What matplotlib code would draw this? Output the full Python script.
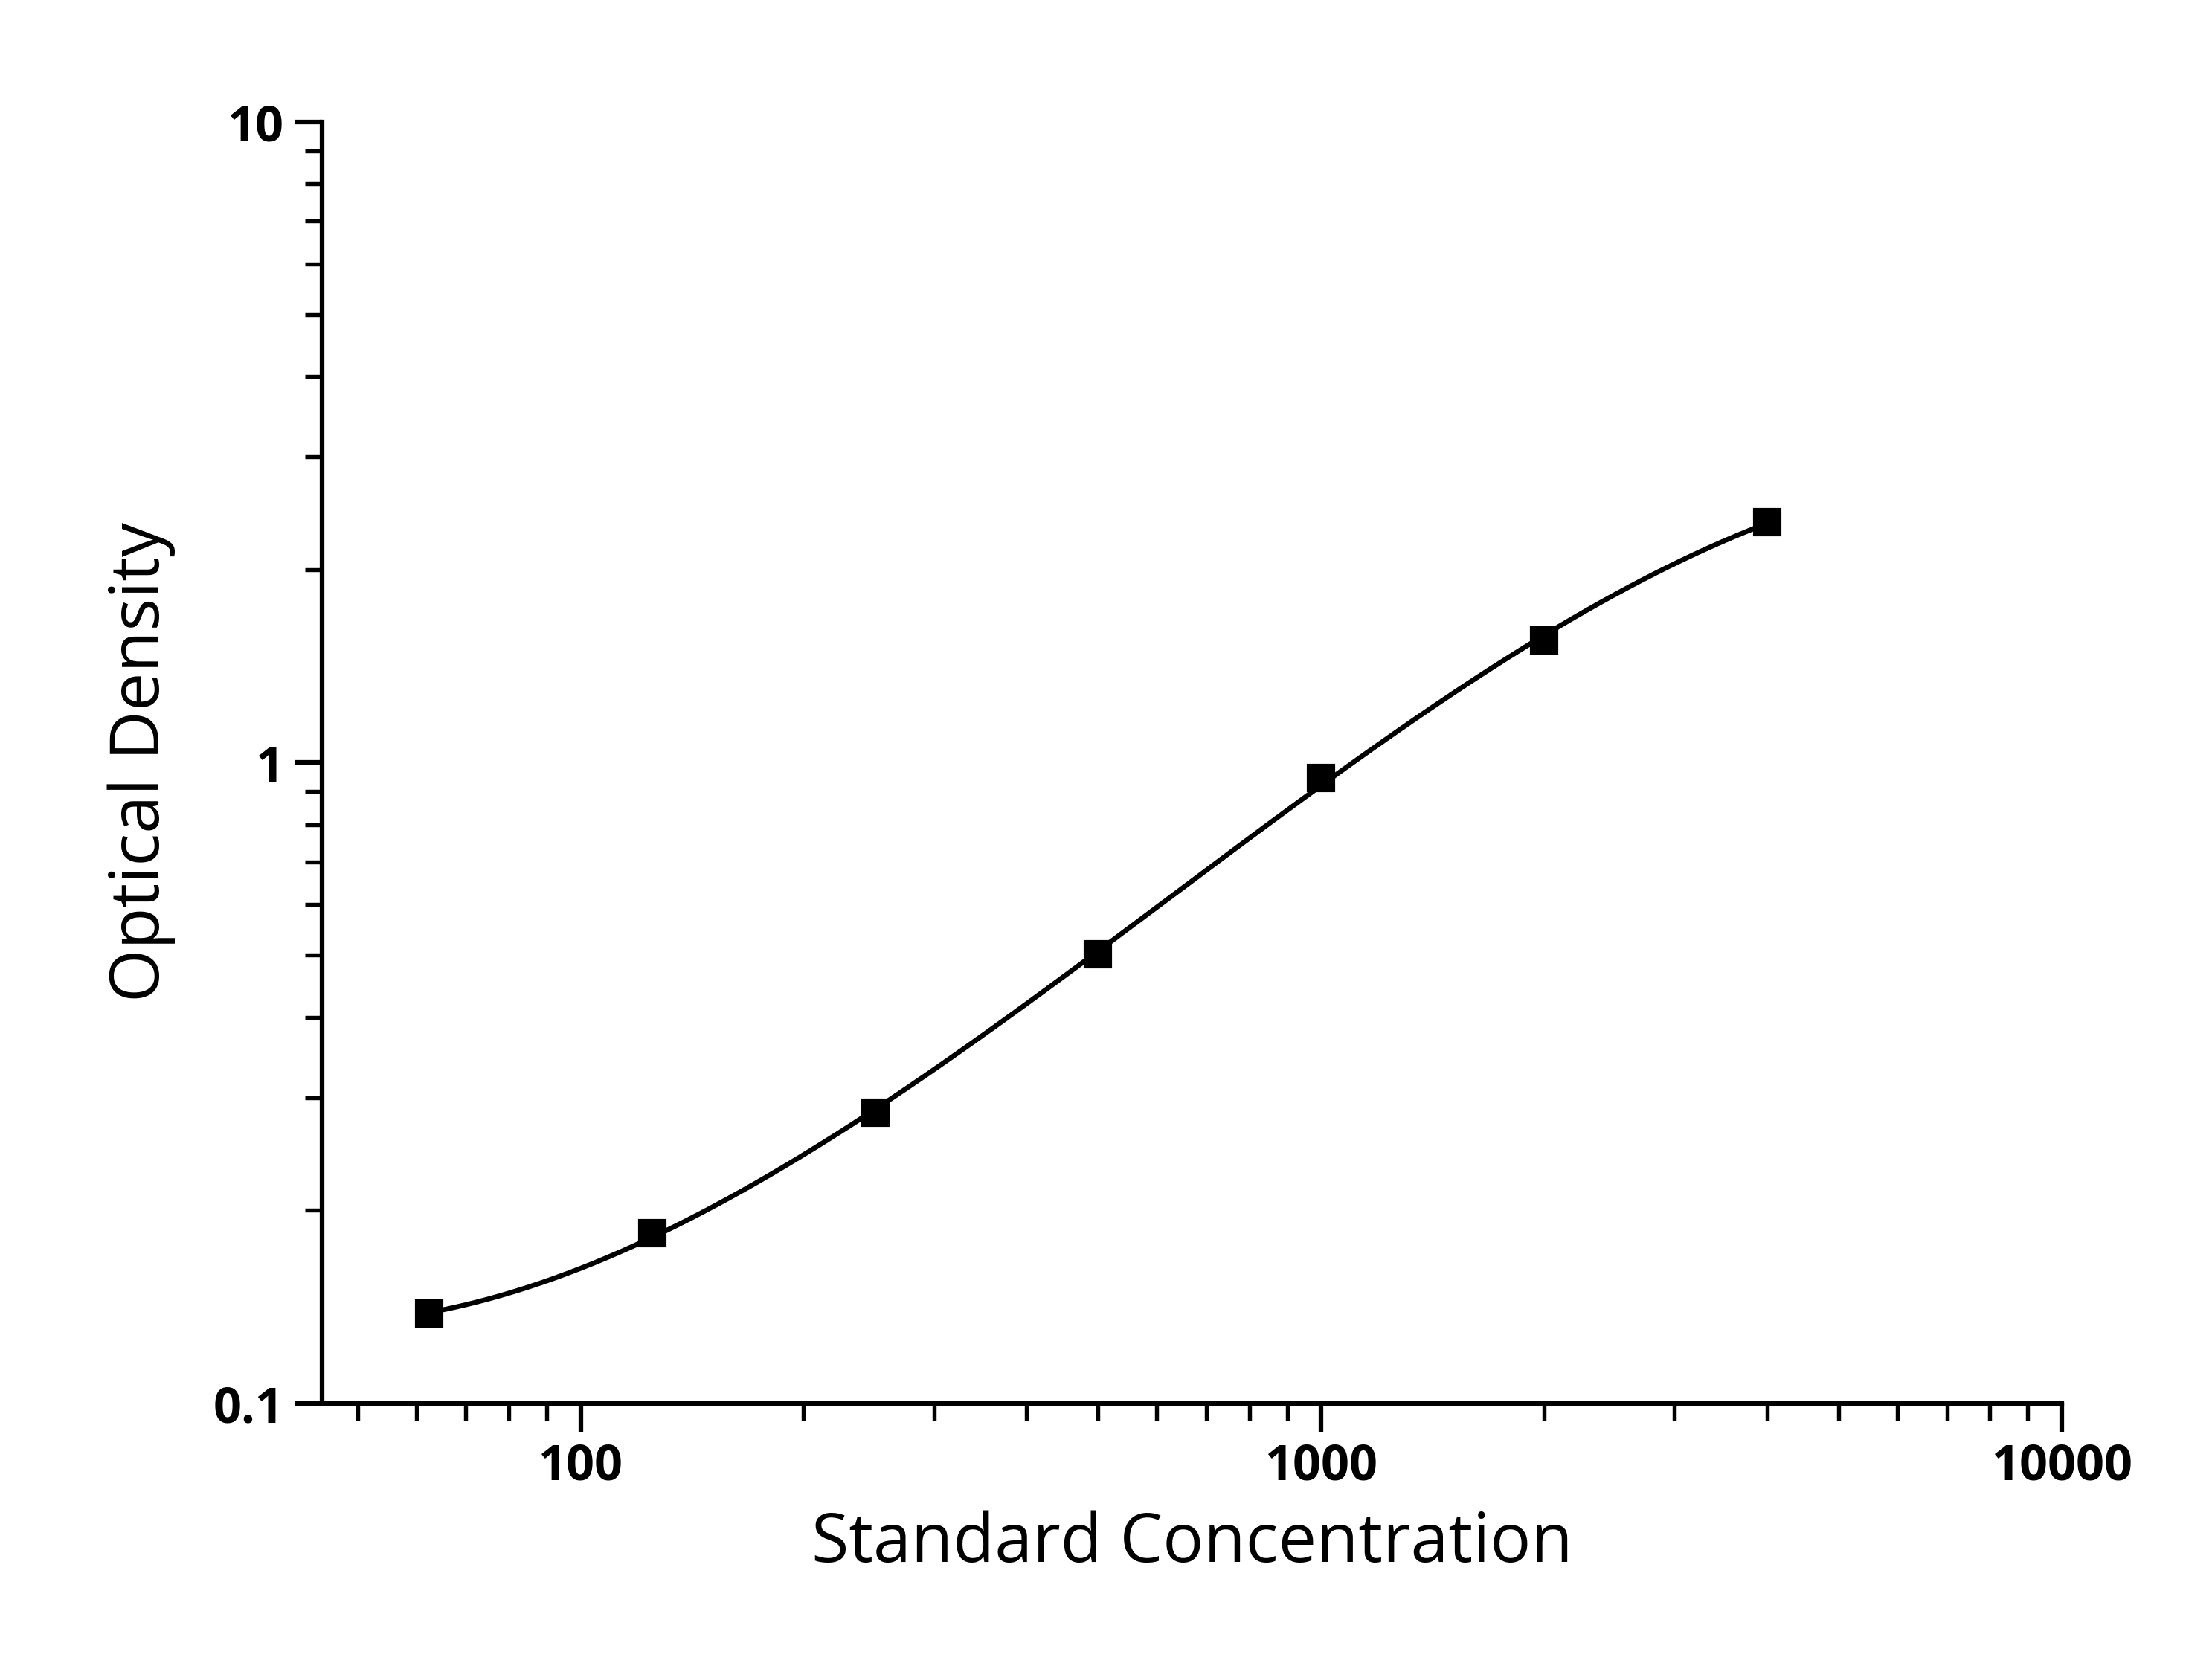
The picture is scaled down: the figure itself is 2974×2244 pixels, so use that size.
import numpy as np
import matplotlib
matplotlib.use("Agg")
import matplotlib.pyplot as plt
from matplotlib.ticker import LogLocator, NullFormatter, FixedLocator, FixedFormatter

conc = [62.5, 125, 250, 500, 1000, 2000, 4000]
od = [0.138, 0.184, 0.284, 0.502, 0.946, 1.55, 2.37]

fig = plt.figure(figsize=(2974/300, 2244/300), dpi=300)
ax = fig.add_axes([0.1457, 0.1593, 0.7863, 0.7678])

lx, ly = np.log10(conc), np.log10(od)
coef = np.polyfit(lx, ly, 3)
xs = np.linspace(lx[0], lx[-1], 300)
ax.plot(10**xs, 10**np.polyval(coef, xs), color="black", lw=1.6)
ax.plot(conc, od, "s", color="black", ms=8)

ax.set_xscale("log"); ax.set_yscale("log")
ax.set_xlim(44.8, 10000); ax.set_ylim(0.1, 10)
for s in ["top", "right"]:
    ax.spines[s].set_visible(False)
for s in ["left", "bottom"]:
    ax.spines[s].set_linewidth(1.5)
ax.xaxis.set_major_locator(FixedLocator([100, 1000, 10000]))
ax.xaxis.set_major_formatter(FixedFormatter(["100", "1000", "10000"]))
ax.yaxis.set_major_locator(FixedLocator([0.1, 1, 10]))
ax.yaxis.set_major_formatter(FixedFormatter(["0.1", "1", "10"]))
ax.xaxis.set_minor_locator(LogLocator(base=10, subs=np.arange(2, 10)))
ax.yaxis.set_minor_locator(LogLocator(base=10, subs=np.arange(2, 10)))
ax.xaxis.set_minor_formatter(NullFormatter()); ax.yaxis.set_minor_formatter(NullFormatter())
ax.tick_params(which="major", direction="out", length=9, width=1.5, labelsize=16)
ax.tick_params(which="minor", direction="out", length=5.5, width=1.3)
for lab in ax.get_xticklabels() + ax.get_yticklabels():
    lab.set_fontweight("bold"); lab.set_fontfamily("Open Sans")
ax.set_xlabel("Standard Concentration", fontsize=22, family="Open Sans", labelpad=6)
ax.set_ylabel("Optical Density", fontsize=22, family="Open Sans", labelpad=12)
fig.savefig("out.png", dpi=300)
